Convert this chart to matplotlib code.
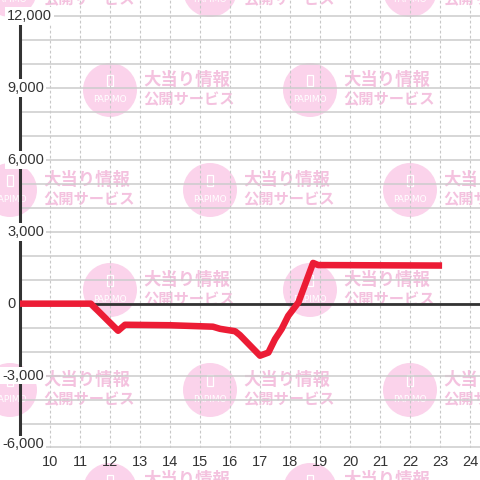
import matplotlib
matplotlib.use("Agg")
import matplotlib.pyplot as plt
from matplotlib.patches import Circle, Rectangle
from matplotlib.transforms import offset_copy

plt.rcParams['font.family'] = ['Liberation Sans', 'Noto Sans CJK JP', 'DejaVu Sans']

# Data (hour of day vs. balance)
hours = [9, 11.36, 12.27, 12.5, 14.0, 15.43, 15.67, 16.17, 16.33, 17.0, 17.28,
         17.5, 17.72, 17.94, 18.28, 18.77, 18.94, 23.07]
balance = [0, 0, -1130, -880, -900, -960, -1050, -1150, -1310, -2170, -2040,
           -1480, -1060, -510, 50, 1700, 1610, 1590]

x_ticks = list(range(10, 25))
y_label_vals = [12000, 9000, 6000, 3000, 0, -3000, -6000]
y_grid_vals = list(range(-6000, 12001, 1000))

W = H = 480
fig = plt.figure(figsize=(4.8, 4.8), dpi=100)

# Watermark background
bg = fig.add_axes([0, 0, 1, 1], zorder=0)
bg.set_xlim(0, W)
bg.set_ylim(H, 0)
bg.axis('off')
centers = []
for cy in [-10, 190, 390]:
    for cx in [10, 210, 410]:
        centers.append((cx, cy))
for cy in [90, 290, 490]:
    for cx in [110, 310]:
        centers.append((cx, cy))
for cx, cy in centers:
    bg.add_patch(Circle((cx, cy), 27, facecolor='#fbd3eb', edgecolor='none'))
    bg.add_patch(Rectangle((cx - 3, cy - 15), 6, 11, facecolor='none',
                           edgecolor='white', lw=0.9))
    bg.text(cx, cy + 10, 'PAPIMO', color='white', fontsize=6.5,
            ha='center', va='center', family=['DejaVu Sans'])
    bg.text(cx + 33, cy - 10, '大当り情報', color='#f4c2df', fontsize=12.5,
            fontweight='bold', ha='left', va='center',
            family=['Noto Sans CJK JP', 'DejaVu Sans'])
    bg.text(cx + 33, cy + 9, '公開サービス', color='#f4c2df', fontsize=11,
            fontweight='bold', ha='left', va='center',
            family=['Noto Sans CJK JP', 'DejaVu Sans'])

# Main axes
left = 20 / W
bottom = (H - 447.5) / H
ax = fig.add_axes([left, bottom, 1 - left, 1 - bottom], zorder=1)
ax.set_facecolor('none')
ax.set_xlim(9, 9 + 460 / 30)
ymin = -6000
ymax = 12000 + 16 / (431.5 / 18000)
ax.set_ylim(ymin, ymax)

ax.set_xticks(x_ticks)
ax.set_xticklabels([str(v) for v in x_ticks], fontsize=10.5, color='#333333')
ax.set_yticks(y_grid_vals)
ax.set_yticklabels([])
ax.tick_params(axis='both', length=0)
ax.tick_params(axis='x', pad=5.5)

ax.grid(axis='y', color='#cccccc', lw=1.1, zorder=0)
ax.grid(axis='x', color='#c8c8c8', lw=0.8, linestyle=(0, (2.5, 2)), zorder=0)
ax.set_axisbelow(True)

for s in ['top', 'right', 'bottom']:
    ax.spines[s].set_visible(False)
ax.spines['left'].set_color('#333333')
ax.spines['left'].set_linewidth(2.2)
ax.spines['left'].set_bounds(-6000, 12000)

ax.axhline(0, color='#333333', lw=2, zorder=2.6)

trans = ax.get_yaxis_transform()
for v in y_label_vals:
    xpx = 7 if v >= 0 else 2
    dy = 3 if v == -6000 else 0
    t = offset_copy(trans, fig=fig, x=0, y=dy, units='dots')
    ax.text((xpx - 20) / 460, v, f'{v:,}', transform=t,
            ha='left', va='center', fontsize=10.5, color='#333333', clip_on=False,
            zorder=3,
            bbox=dict(boxstyle='square,pad=0.12', fc='white', ec='none'))

ax.plot(hours, balance, color='#ec1c35', lw=4.7, solid_joinstyle='round',
        solid_capstyle='butt', zorder=4, clip_on=False)

fig.savefig('out.png', dpi=100)
